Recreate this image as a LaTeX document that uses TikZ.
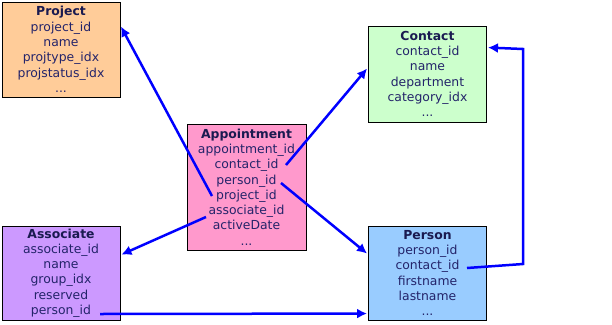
\documentclass[tikz,border=0pt]{standalone}
\usepackage{fontspec}
\setmainfont{DejaVu Sans}
\usetikzlibrary{arrows.meta}
\definecolor{txt}{HTML}{24246A}
\definecolor{ttl}{HTML}{1A1A50}
\definecolor{cproj}{HTML}{FFCC99}
\definecolor{ccont}{HTML}{CCFFCC}
\definecolor{cappt}{HTML}{FF99CC}
\definecolor{cass}{HTML}{CC99FF}
\definecolor{cpers}{HTML}{99CCFF}
\definecolor{lnk}{HTML}{0000FF}
\begin{document}
\begin{tikzpicture}[x=1pt,y=-1pt,
  tbl/.style={draw=black,line width=0.9pt,rectangle,inner sep=0pt,align=center,
    text=txt,font=\fontsize{12.4}{15.3}\selectfont,text width=118pt,minimum width=118pt},
  rel/.style={draw=lnk,line width=2.5pt,-{Latex[length=10pt,width=10pt]}}]
\useasboundingbox (0,0) rectangle (612,324);
\node[tbl,fill=cproj,minimum height=95pt] (proj) at (61,49.5)
  {\textbf{\color{ttl}Project}\\project\_id\\name\\projtype\_idx\\projstatus\_idx\\...};
\node[tbl,fill=ccont,minimum height=96pt] (cont) at (427.5,74)
  {\textbf{\color{ttl}Contact}\\contact\_id\\name\\department\\category\_idx\\...};
\node[tbl,fill=cappt,minimum height=126pt,text width=119pt,minimum width=119pt] (appt) at (246.5,187)
  {\textbf{\color{ttl}Appointment}\\appointment\_id\\contact\_id\\person\_id\\project\_id\\associate\_id\\activeDate\\...};
\node[tbl,fill=cass,minimum height=94pt] (assoc) at (61,273)
  {\textbf{\color{ttl}Associate}\\associate\_id\\name\\group\_idx\\reserved\\person\_id};
\node[tbl,fill=cpers,minimum height=94pt] (pers) at (427.5,273)
  {\textbf{\color{ttl}Person}\\person\_id\\contact\_id\\firstname\\lastname\\...};
% field anchors
\coordinate (aProj) at (212,196);
\coordinate (aCont) at (286,165);
\coordinate (aPers) at (281,183);
\coordinate (aAssoc) at (206,217);
\coordinate (sPers) at (100,314);
\coordinate (pCont) at (467,268);
\coordinate (b1) at (523,264);
\coordinate (b2) at (523,49);
% relations
\draw[rel] (aProj) -- ([xshift=0.5pt,yshift=-25pt]proj.north east);
\draw[rel] (aCont) -- ([xshift=-1pt,yshift=-43pt]cont.north west);
\draw[rel] (aPers) -- ([xshift=-1pt,yshift=-28pt]pers.north west);
\draw[rel] (aAssoc) -- ([xshift=1pt,yshift=-29pt]assoc.north east);
\draw[rel] (sPers) -- ([xshift=-1pt,yshift=-88pt]pers.north west);
\draw[rel] (pCont) -- (b1) -- (b2) -- ([xshift=1pt,yshift=-22pt]cont.north east);
\end{tikzpicture}
\end{document}
